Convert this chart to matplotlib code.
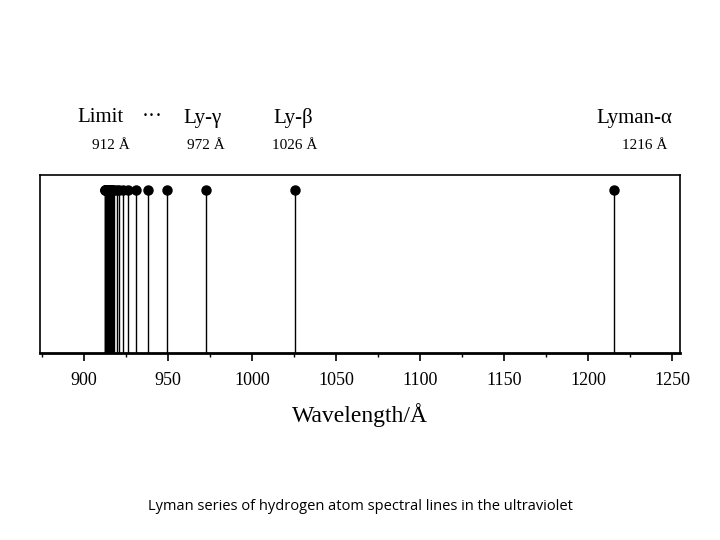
import matplotlib
matplotlib.use("Agg")
import matplotlib.pyplot as plt
from matplotlib.ticker import MultipleLocator

wavelengths = [1215.7, 1025.7, 972.5, 949.7, 937.8, 930.7, 926.2, 923.2, 921.0,
               919.4, 918.1, 917.2, 916.4, 915.8, 915.3, 914.9, 914.6, 914.3,
               914.0, 913.8, 913.6, 913.4, 913.3, 913.1, 913.0, 912.8, 912.6,
               912.4, 912.2]
intensity = [1.0] * len(wavelengths)
line_names = ["Limit", "\u00b7\u00b7\u00b7", "Ly-\u03b3", "Ly-\u03b2", "Lyman-\u03b1"]
name_x = [101, 152, 203, 293, 634]
label_vals = ["912 \u00c5", "972 \u00c5", "1026 \u00c5", "1216 \u00c5"]
label_x = [111, 206, 295, 645]

W, H = 720, 540
fig = plt.figure(figsize=(7.2, 5.4), dpi=100)
serif = "Liberation Serif"
ax = fig.add_axes([40/W, 1-353/H, 640/W, 178/H])
top = 0.916
ax.vlines(wavelengths, 0, [v*top for v in intensity], color="black", lw=1)
ax.plot(wavelengths, [v*top for v in intensity], "o", color="black", ms=6.5)
ax.set_xlim(873.8, 1254.8)
ax.set_ylim(0, 1)
ax.set_yticks([])
ax.xaxis.set_major_locator(MultipleLocator(50))
ax.xaxis.set_minor_locator(MultipleLocator(25))
ax.tick_params(axis="x", which="major", direction="out", length=6, width=1.2, labelsize=13, pad=8)
ax.tick_params(axis="x", which="minor", direction="out", length=3, width=1)
for lab in ax.get_xticklabels():
    lab.set_fontfamily(serif)
for s in ax.spines.values():
    s.set_linewidth(1.2)
ax.spines["bottom"].set_linewidth(2)
ax.set_xlabel("Wavelength/\u00c5", fontfamily=serif, fontsize=17, labelpad=10)

for n, x in zip(line_names, name_x):
    fig.text(x/W, 1-118/H, n, fontfamily=serif, fontsize=15, ha="center", va="center")
for n, x in zip(label_vals, label_x):
    fig.text(x/W, 1-145/H, n, fontfamily=serif, fontsize=11, ha="center", va="center")
fig.text(0.5, 1-507/H, "Lyman series of hydrogen atom spectral lines in the ultraviolet",
         fontfamily="Open Sans", fontsize=10.5, ha="center", va="center")
fig.savefig("out.png", dpi=100)
